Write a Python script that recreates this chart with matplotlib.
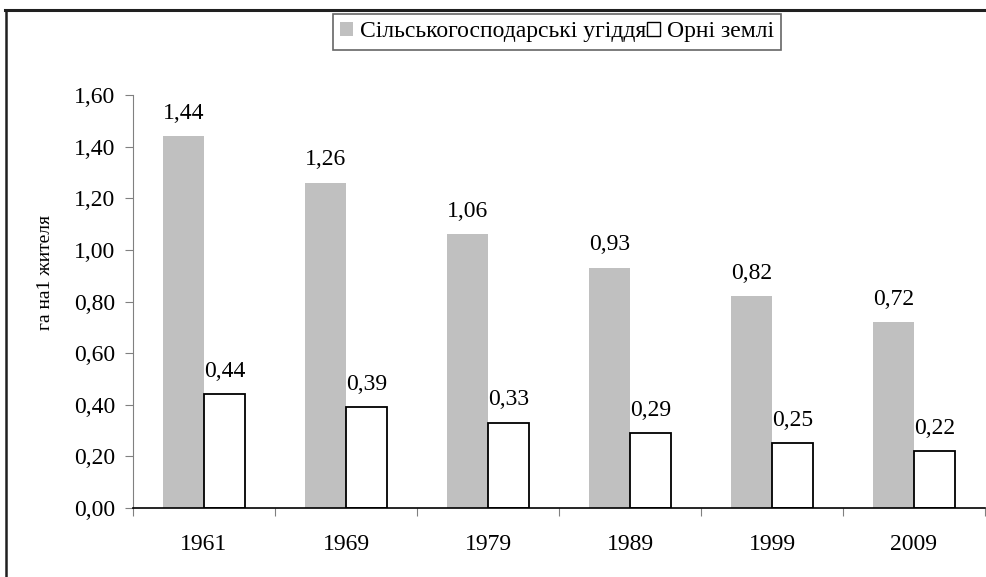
import matplotlib
matplotlib.use("Agg")
import matplotlib.pyplot as plt
import numpy as np
from matplotlib.lines import Line2D
from matplotlib.patches import Patch

plt.rcParams['font.family'] = ['Liberation Serif', 'DejaVu Serif']

years = ['1961', '1969', '1979', '1989', '1999', '2009']
agri_land = [1.44, 1.26, 1.06, 0.93, 0.82, 0.72]
arable_land = [0.44, 0.39, 0.33, 0.29, 0.25, 0.22]
yticks = [0.0, 0.2, 0.4, 0.6, 0.8, 1.0, 1.2, 1.4, 1.6]

FS = 17
fig = plt.figure(figsize=(9.87, 5.77), dpi=100)
ax = fig.add_axes([133 / 987, 1 - 508 / 577, 852 / 987, 413 / 577])

x = np.arange(len(years))
w = 0.29
b1 = ax.bar(x - w / 2, agri_land, w, color='#c0c0c0', linewidth=0)
b2 = ax.bar(x + w / 2, arable_land, w, color='white', edgecolor='black', linewidth=1.3)

def fmt(v):
    return f"{v:.2f}".replace('.', ',')

for bars, vals in ((b1, agri_land), (b2, arable_land)):
    for r, v in zip(bars, vals):
        ax.annotate(fmt(v), (r.get_x() + r.get_width() / 2, v), xytext=(0, 9),
                    textcoords='offset points', ha='center', va='bottom', fontsize=FS)

ax.set_xlim(-0.5, len(years) - 0.5)
ax.set_ylim(0, 1.6)
ax.set_yticks(yticks)
ax.set_yticklabels([fmt(v) for v in yticks], fontsize=FS)
ax.set_xticks(np.arange(len(years) + 1) - 0.5)
ax.set_xticklabels([])
ax.set_xticks(x, minor=True)
ax.set_xticklabels(years, minor=True, fontsize=FS)
ax.tick_params(axis='x', which='major', length=6, color='#808080', direction='out')
ax.tick_params(axis='x', which='minor', length=0, pad=19)
ax.tick_params(axis='y', length=6, color='#808080', direction='out', pad=7)

for s in ('top', 'right'):
    ax.spines[s].set_visible(False)
ax.spines['left'].set_color('#808080')
ax.spines['bottom'].set_color('black')
ax.spines['bottom'].set_linewidth(1.2)

fig.text(46 / 987, 1 - 272 / 577, 'га на1 жителя', rotation=90, ha='center', va='center',
         fontsize=14)

handles = [Patch(facecolor='#c0c0c0', edgecolor='none'),
           Patch(facecolor='white', edgecolor='black', linewidth=1)]
leg = fig.legend(handles, ['Сільськогосподарські угіддя', 'Орні землі'], ncol=2,
                 loc='center', bbox_to_anchor=(557 / 987, 1 - 32 / 577), fontsize=FS,
                 handlelength=0.55, handleheight=0.55, handletextpad=0.3, columnspacing=0.0,
                 fancybox=False, frameon=True, borderpad=0.3, borderaxespad=0)
leg.get_frame().set_edgecolor('#404040')
leg.get_frame().set_linewidth(1.2)

# outer frame lines (top and left)
fig.add_artist(Line2D([5 / 987, 1], [1 - 10 / 577, 1 - 10 / 577], color='#202020', lw=2.2,
                      transform=fig.transFigure))
fig.add_artist(Line2D([6 / 987, 6 / 987], [0, 1 - 10 / 577], color='#202020', lw=1.8,
                      transform=fig.transFigure))

fig.savefig('out.png', dpi=100)
